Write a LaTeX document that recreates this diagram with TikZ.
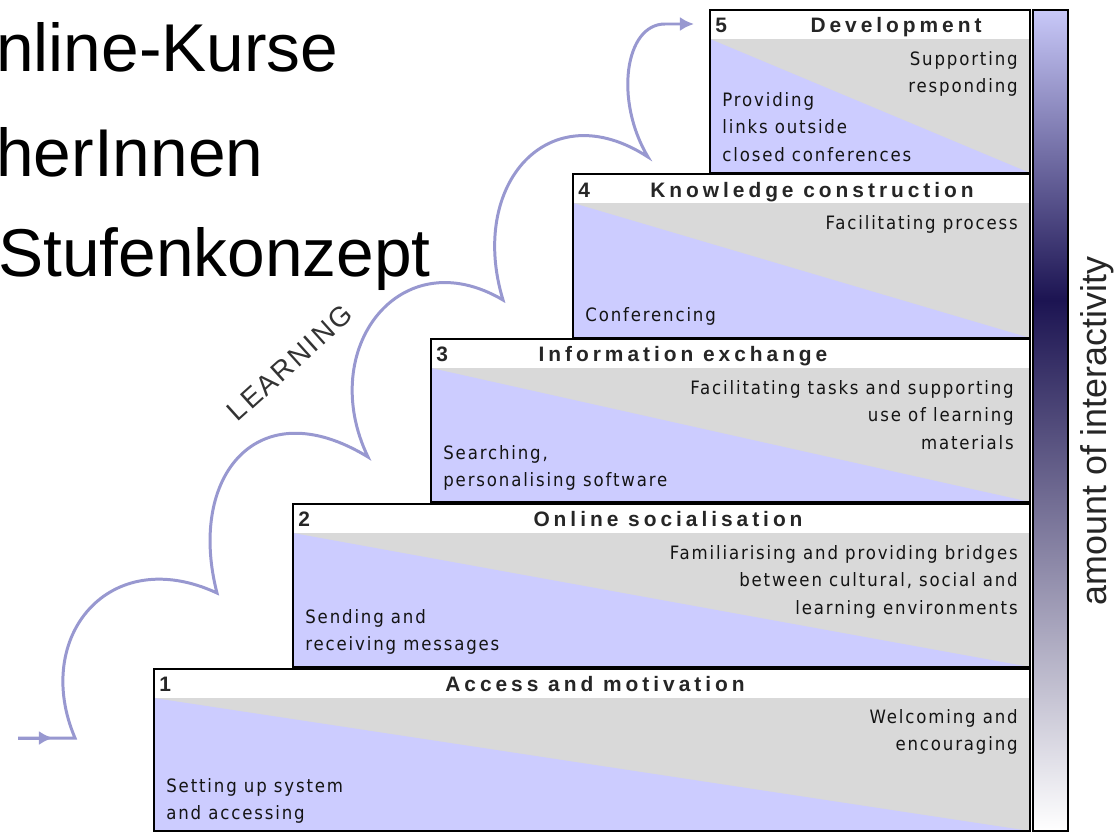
\documentclass[tikz,border=0pt]{standalone}
\usepackage{fontspec}
\setmainfont{Liberation Sans}
\newfontfamily\bodyfam[LetterSpace=10,FakeStretch=0.9]{DejaVu Sans}
\newfontfamily\titlefam[LetterSpace=19]{Liberation Sans}
\newfontfamily\learnfam[LetterSpace=8]{Liberation Sans}
\usetikzlibrary{arrows.meta}
\definecolor{stepblue}{HTML}{CCCCFF}
\definecolor{stepgray}{HTML}{D9D9D9}
\definecolor{arccol}{HTML}{9898D0}
\definecolor{barlight}{RGB}{200,200,248}
\definecolor{bardark}{RGB}{28,20,82}
\definecolor{txt}{HTML}{141414}
\newcommand\drawstep[3]{%
  \fill[stepgray] (#1,#2+29) rectangle (1030,#3);
  \fill[stepblue] (#1,#2+29) -- (#1,#3) -- (1030,#3) -- cycle;
  \draw[boxline] (#1,#2) rectangle (1030,#3);
}
\begin{document}
\begin{tikzpicture}[x=0.02cm,y=-0.02cm,
  boxline/.style={draw=black,line width=1.2pt},
  bodyR/.style={font=\bodyfam\fontsize{10.49pt}{15.6pt}\selectfont,text=txt,align=right,inner sep=0pt,anchor=base east},
  bodyL/.style={font=\bodyfam\fontsize{10.49pt}{15.6pt}\selectfont,text=txt,align=left,inner sep=0pt,anchor=base west},
  ttl/.style={font=\titlefam\bfseries\fontsize{11.9pt}{13pt}\selectfont,text=black!85,inner sep=0pt,anchor=base},
  num/.style={font=\bfseries\fontsize{11.9pt}{13pt}\selectfont,text=black!85,inner sep=0pt,anchor=base west},
  big/.style={font=\fontsize{38.5pt}{42pt}\selectfont,text=black,inner sep=0pt,anchor=base west},
  arc/.style={draw=arccol,line width=1.7pt},
  tip/.style={-{Latex[length=8pt,width=8pt]}},
]
\useasboundingbox (0,0) rectangle (1118,832);
\fill[white] (0,0) rectangle (1118,832);

% headline text
\node[big] (h1) at (-4,71) {nline-Kurse};
\node[big] (h2) at (-4,176) {herInnen};
\node[big] (h3) at (-2,276) {Stufenkonzept};

% steps
\drawstep{154}{669}{831}
\drawstep{293}{504}{667}
\drawstep{431}{339}{502}
\drawstep{573}{174}{338}
\drawstep{710}{10}{173}

% gradient bar
\shade[top color=barlight,bottom color=bardark] (1033,10) rectangle (1068,300);
\shade[top color=bardark,bottom color=white] (1033,300) rectangle (1068,831);
\draw[boxline] (1033,10) rectangle (1068,831);
\node[font=\fontsize{20.4pt}{24pt}\selectfont,text=black!85,rotate=90] (amt) at (1097,431) {amount of interactivity};

% step 5
\node[num] (n5) at (715,32) {5};
\node[ttl] (t5) at (896,32) {Development};
\node[bodyR] (r5) at (1018,92.5) {Supporting\\responding};
\node[bodyL] (l5) at (722,161) {Providing\\links outside\\closed conferences};
% step 4
\node[num] (n4) at (578,197) {4};
\node[ttl] (t4) at (812,197) {Knowledge construction};
\node[bodyR] (r4) at (1018,229) {Facilitating process};
\node[bodyL] (l4) at (585,321) {Conferencing};
% step 3
\node[num] (n3) at (436,361) {3};
\node[ttl] (t3) at (683,361) {Information exchange};
\node[bodyR] (r3) at (1014,449) {Facilitating tasks and supporting\\use of learning\\materials};
\node[bodyL] (l3) at (443,486.5) {Searching,\\personalising software};
% step 2
\node[num] (n2) at (298,526) {2};
\node[ttl] (t2) at (668,526) {Online socialisation};
\node[bodyR] (r2) at (1018,614) {Familiarising and providing bridges\\between cultural, social and\\learning environments};
\node[bodyL] (l2) at (305,650.5) {Sending and\\receiving messages};
% step 1
\node[num] (n1) at (159,691) {1};
\node[ttl] (t1) at (595,691) {Access and motivation};
\node[bodyR] (r1) at (1018,750.5) {Welcoming and\\encouraging};
\node[bodyL] (l1) at (166,819.5) {Setting up system\\and accessing};

% learning path
\coordinate (a0) at (18,738);
\coordinate (a1) at (53,738);
\coordinate (c0) at (75,738);
\coordinate (c1) at (217,593);
\coordinate (c2) at (368,457);
\coordinate (c3) at (503,300);
\coordinate (c4) at (648,157);
\coordinate (c5) at (665,24);
\coordinate (a2) at (694,24);
\draw[arc,tip] (a0) -- (a1);
\draw[arc,tip] (a0) -- (c0)
  .. controls (32,637) and (109,543) .. (c1)
  .. controls (187,477) and (257,389) .. (c2)
  .. controls (316,349) and (400,239) .. (c3)
  .. controls (468,185) and (548,92) .. (c4)
  .. controls (614,100) and (625,24) .. (c5) -- (a2);
\node[font=\learnfam\fontsize{15.8pt}{18pt}\selectfont,text=black!80,rotate=42] (lrn) at (290,363) {LEARNING};
\end{tikzpicture}
\end{document}
